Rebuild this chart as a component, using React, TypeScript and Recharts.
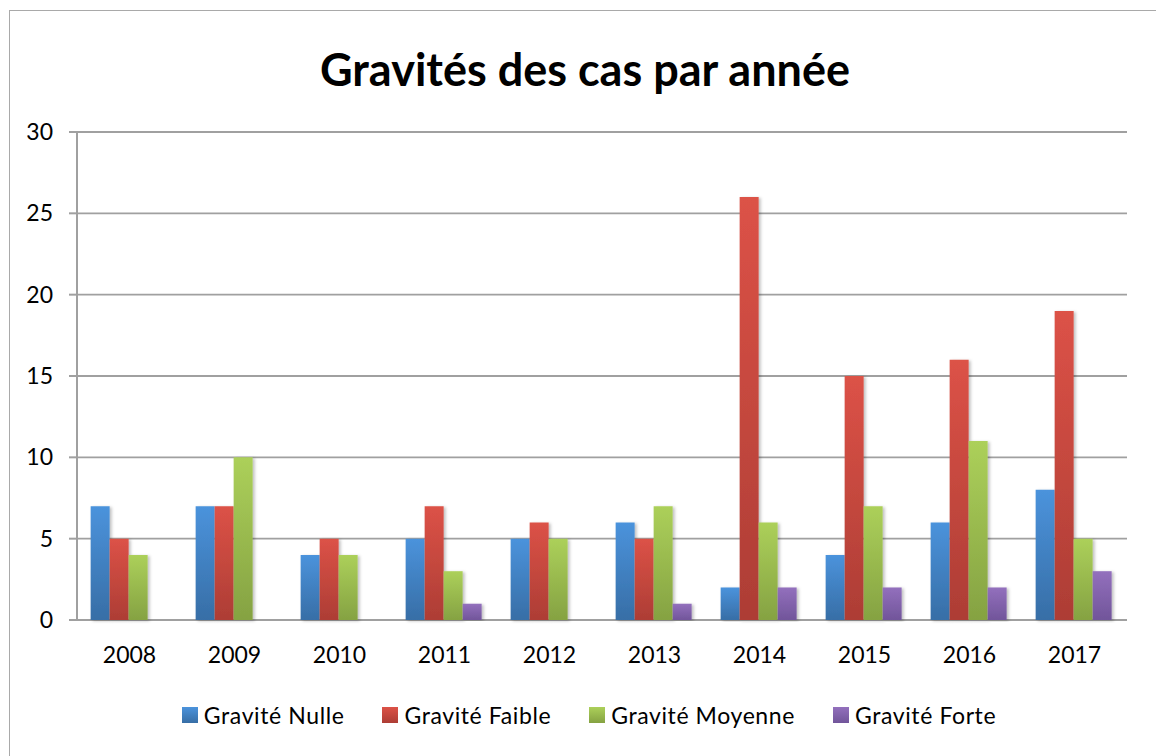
import React from "react";
import { BarChart, Bar, XAxis, YAxis, CartesianGrid } from "recharts";

const years = ["2008", "2009", "2010", "2011", "2012", "2013", "2014", "2015", "2016", "2017"];
const nulle = [7, 7, 4, 5, 5, 6, 2, 4, 6, 8];
const faible = [5, 7, 5, 7, 6, 5, 26, 15, 16, 19];
const moyenne = [4, 10, 4, 3, 5, 7, 6, 7, 11, 5];
const forte = [0, 0, 0, 1, 0, 1, 2, 2, 2, 3];
const yTicks = [0, 5, 10, 15, 20, 25, 30];
const boundaryTicks = [0, 1, 2, 3, 4, 5, 6, 7, 8, 9, 10];

const series = [
  { key: "nulle", name: "Gravité Nulle", top: "#4b93dc", bottom: "#376ea6" },
  { key: "faible", name: "Gravité Faible", top: "#dc5247", bottom: "#ad3d35" },
  { key: "moyenne", name: "Gravité Moyenne", top: "#acd05a", bottom: "#85a242" },
  { key: "forte", name: "Gravité Forte", top: "#9370bd", bottom: "#71559a" },
];

const data = years.map((y, i) => ({
  year: y,
  nulle: nulle[i],
  faible: faible[i],
  moyenne: moyenne[i],
  forte: forte[i],
}));

const FONT = "Lato, 'Open Sans', sans-serif";
const GRAY = "#a0a0a0";

export default function App() {
  return (
    <div style={{ position: "absolute", left: 0, top: 0, width: 1156, height: 756, background: "#fff", overflow: "hidden", fontFamily: FONT }}>
      <div style={{ position: "absolute", left: 9, top: 10, width: 1200, height: 800, borderLeft: "1.5px solid #a9a9a9", borderTop: "1.5px solid #a9a9a9" }} />
      <div style={{ position: "absolute", left: 0, top: 42, width: 1170, textAlign: "center", fontSize: 45, lineHeight: "54px", fontWeight: 700, color: "#000" }}>
        Gravités des cas par année
      </div>
      <div style={{ position: "absolute", left: 0, top: 0 }}>
        <BarChart
          width={1156}
          height={756}
          data={data}
          margin={{ top: 132, right: 29, left: 0, bottom: 106 }}
          barGap={0}
          barCategoryGap="13%"
        >
          <defs>
            {series.map((s) => (
              <linearGradient key={s.key} id={"g-" + s.key} x1="0" y1="0" x2="0" y2="1">
                <stop offset="0%" stopColor={s.top} />
                <stop offset="100%" stopColor={s.bottom} />
              </linearGradient>
            ))}
            <filter id="shadow" x="-20%" y="-5%" width="150%" height="110%">
              <feDropShadow dx="2" dy="1" stdDeviation="1.5" floodColor="#000" floodOpacity="0.25" />
            </filter>
          </defs>
          <CartesianGrid horizontal vertical={false} stroke={GRAY} strokeWidth={1.8} xAxisId="cat" />
          <XAxis
            xAxisId="grid"
            type="number"
            domain={[0, 10]}
            ticks={boundaryTicks}
            tick={false}
            height={0}
            tickSize={8}
            axisLine={{ stroke: GRAY, strokeWidth: 2 }}
            tickLine={{ stroke: GRAY, strokeWidth: 2 }}
          />
          <XAxis
            xAxisId="cat"
            dataKey="year"
            height={30}
            axisLine={false}
            tickLine={false}
            tickSize={0}
            tickMargin={27}
            tick={{ fill: "#000", fontSize: 23, fontFamily: FONT }}
          />
          <YAxis
            domain={[0, 30]}
            ticks={yTicks}
            width={77}
            tickSize={8}
            tickMargin={16}
            axisLine={{ stroke: GRAY, strokeWidth: 2 }}
            tickLine={{ stroke: GRAY, strokeWidth: 2 }}
            tick={{ fill: "#000", fontSize: 23, fontFamily: FONT }}
            interval={0}
          />
          {series.map((s) => (
            <Bar
              key={s.key}
              xAxisId="cat"
              dataKey={s.key}
              name={s.name}
              fill={`url(#g-${s.key})`}
              filter="url(#shadow)"
              isAnimationActive={false}
            />
          ))}
        </BarChart>
      </div>
      <div style={{ position: "absolute", left: 0, top: 700, width: 1156, display: "flex", justifyContent: "center", alignItems: "center", gap: 38, fontSize: 23, letterSpacing: 0.6, lineHeight: "30px", color: "#000", paddingLeft: 22, boxSizing: "border-box" }}>
        {series.map((s) => (
          <div key={s.key} style={{ display: "flex", alignItems: "center" }}>
            <span style={{ display: "inline-block", width: 16, height: 16, marginRight: 6, background: `linear-gradient(${s.top}, ${s.bottom})` }} />
            <span>{s.name}</span>
          </div>
        ))}
      </div>
    </div>
  );
}
